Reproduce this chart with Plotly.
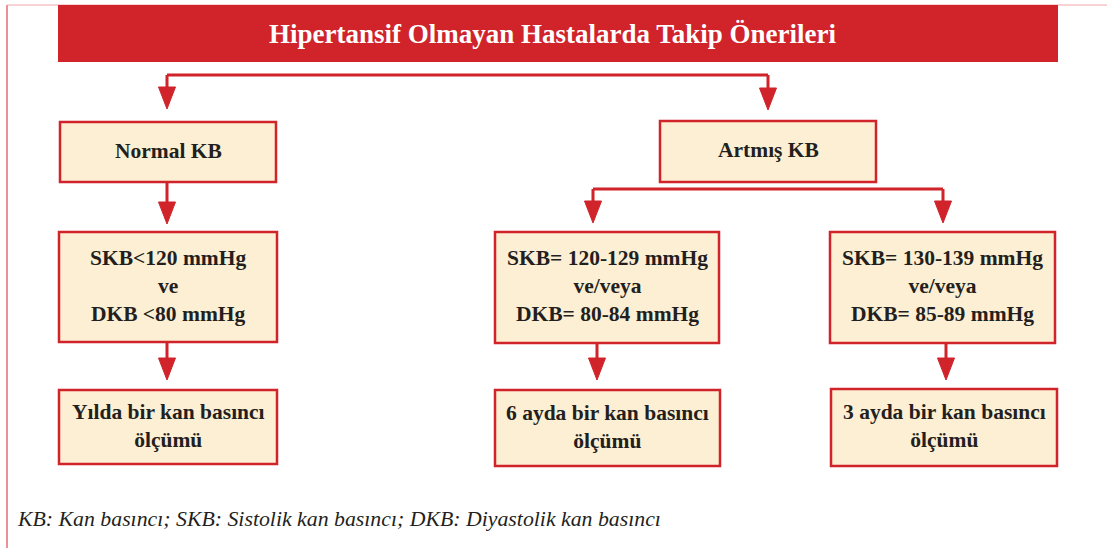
import plotly.graph_objects as go

# ---- content (text data) ----
title_text = "Hipertansif Olmayan Hastalarda Takip Önerileri"
level1_labels = ["Normal KB", "Artmış KB"]
criteria_labels = [
    "SKB<120 mmHg<br>ve<br>DKB <80 mmHg",
    "SKB= 120-129 mmHg<br>ve/veya<br>DKB= 80-84 mmHg",
    "SKB= 130-139 mmHg<br>ve/veya<br>DKB= 85-89 mmHg",
]
followup_labels = [
    "Yılda bir kan basıncı<br>ölçümü",
    "6 ayda bir kan basıncı<br>ölçümü",
    "3 ayda bir kan basıncı<br>ölçümü",
]
footnote_text = "KB: Kan basıncı; SKB: Sistolik kan basıncı; DKB: Diyastolik kan basıncı"

# ---- layout geometry (pixel space) ----
W, H = 1107, 548
RED = "#D0232A"
FILL = "#FDEFD3"
TXT = "#231F20"
FONT = "Liberation Serif"

level1_boxes = [(60, 122, 276, 182), (660, 121, 876, 182)]
criteria_boxes = [(59, 232, 277, 342), (495, 232, 719, 343), (830, 232, 1055, 343)]
followup_boxes = [(59, 390, 277, 464), (495, 390, 720, 466), (831, 389, 1057, 466)]

fig = go.Figure()
shapes = []
annotations = []

# outer thin border
shapes.append(dict(type="line", x0=7, y0=5, x1=7, y1=H, line=dict(color="#E46C76", width=1.5)))
shapes.append(dict(type="line", x0=7, y0=5, x1=W, y1=5, line=dict(color="#F2A5AB", width=1.2)))

# title bar
shapes.append(dict(type="rect", x0=58, y0=5, x1=1058, y1=62, fillcolor=RED, line=dict(width=0)))
annotations.append(dict(x=553, y=34, text="<b>" + title_text + "</b>", showarrow=False,
                        font=dict(family=FONT, size=27, color="white"), xanchor="center", yanchor="middle"))


def add_line(x0, y0, x1, y1):
    shapes.append(dict(type="line", x0=x0, y0=y0, x1=x1, y1=y1, line=dict(color=RED, width=3)))


def add_arrow(x, y0, y1):
    # vertical arrow from y0 down to tip at y1
    add_line(x, y0, x, y1 - 16)
    shapes.append(dict(type="path",
                       path=f"M {x-8.5},{y1-22} L {x+8.5},{y1-22} L {x},{y1} Z",
                       fillcolor=RED, line=dict(color=RED, width=1)))


def add_box(b, text, size=21.5):
    x0, y0, x1, y1 = b
    shapes.append(dict(type="rect", x0=x0, y0=y0, x1=x1, y1=y1, fillcolor=FILL,
                       line=dict(color=RED, width=2.5)))
    annotations.append(dict(x=(x0 + x1) / 2, y=(y0 + y1) / 2 - 1.5, text="<b>" + text + "</b>",
                            showarrow=False, align="center",
                            font=dict(family=FONT, size=size, color=TXT),
                            xanchor="center", yanchor="middle"))


# connectors top
add_line(167, 75, 768, 75)
add_arrow(167, 75, 109)
add_arrow(768, 75, 110)

# connectors under Artmış KB
add_line(593, 189, 943, 189)
add_arrow(593, 189, 223)
add_arrow(943, 189, 223)

# column arrows
add_arrow(167, 182, 224)
add_arrow(167, 342, 380)
add_arrow(597, 343, 380)
add_arrow(946, 343, 380)

for b, t in zip(level1_boxes, level1_labels):
    add_box(b, t)
for b, t in zip(criteria_boxes, criteria_labels):
    add_box(b, t)
for b, t in zip(followup_boxes, followup_labels):
    add_box(b, t)

annotations.append(dict(x=15, y=519, text="<i>" + footnote_text + "</i>", showarrow=False,
                        font=dict(family=FONT, size=21.8, color=TXT), xanchor="left", yanchor="middle"))

fig.update_layout(
    width=W, height=H,
    margin=dict(l=0, r=0, t=0, b=0),
    paper_bgcolor="white", plot_bgcolor="white",
    xaxis=dict(range=[0, W], visible=False, fixedrange=True),
    yaxis=dict(range=[H, 0], visible=False, fixedrange=True),
    shapes=shapes, annotations=annotations,
    showlegend=False,
)

fig.write_html("out.html", config={"displayModeBar": False},
               post_script="document.body.style.margin='0';document.body.style.overflow='hidden';")
